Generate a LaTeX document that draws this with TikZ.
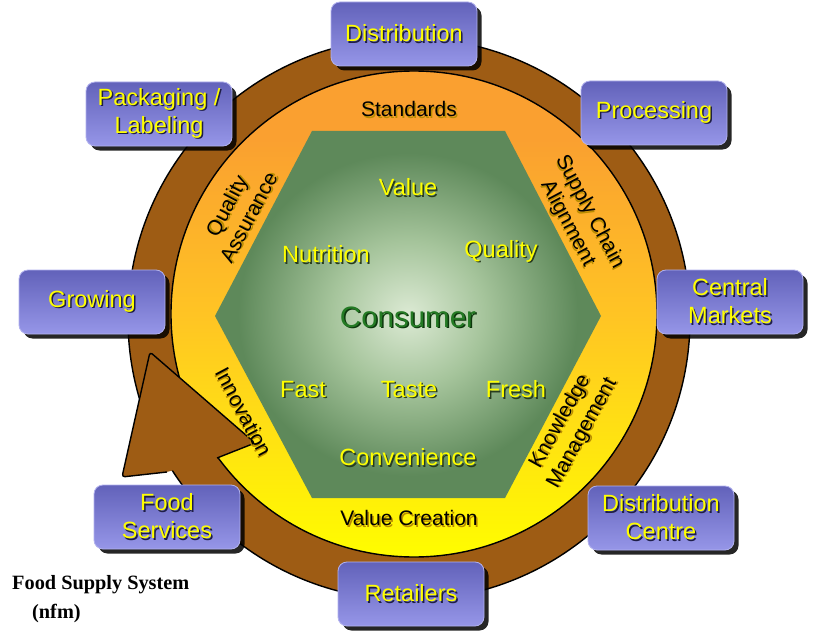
\documentclass[tikz,border=0pt]{standalone}
\usepackage{fontspec}
\setmainfont{Liberation Sans}
\newfontfamily\capfont{Liberation Serif}
\usetikzlibrary{shadows}
\definecolor{ringbrown}{RGB}{158,92,20}
\definecolor{boxtop}{RGB}{98,98,186}
\definecolor{boxbot}{RGB}{150,150,232}
\definecolor{boxline}{RGB}{178,178,238}
\definecolor{txtyel}{RGB}{255,255,0}
\definecolor{txtsh}{RGB}{30,30,70}
\definecolor{hexsh}{RGB}{40,60,30}
\definecolor{consgreen}{RGB}{36,122,36}
\definecolor{conssh}{RGB}{12,55,12}
\definecolor{ringsh}{RGB}{185,140,0}
\definecolor{hexin}{RGB}{220,234,212}
\definecolor{hexmid}{RGB}{165,196,155}
\definecolor{hexout}{RGB}{94,137,90}
\definecolor{ringY}{RGB}{255,253,0}
\definecolor{ringYb}{RGB}{255,242,6}
\definecolor{ringA}{RGB}{255,220,22}
\definecolor{ringB}{RGB}{255,196,36}
\definecolor{ringC}{RGB}{250,160,48}
\pgfdeclareradialshading{hexglow}{\pgfpoint{0bp}{0bp}}{color(0bp)=(hexin); color(10bp)=(hexmid); color(22bp)=(hexout); color(50bp)=(hexout)}
\pgfdeclareverticalshading{ringfade}{100bp}{color(0bp)=(ringY); color(25bp)=(ringY); color(30bp)=(ringYb); color(40bp)=(ringA); color(50bp)=(ringB); color(68bp)=(ringC); color(100bp)=(ringC)}
\newcommand\shadowed[3]{\leavevmode\rlap{\kern1.5pt\raisebox{-1.5pt}{\textcolor{#2}{#3}}}\textcolor{#1}{#3}}
\newcommand\shy[1]{\shadowed{txtyel}{txtsh}{#1}}
\newcommand\hy[1]{\shadowed{txtyel}{hexsh}{#1}}
\newcommand\rt[1]{\shadowed{black}{ringsh}{#1}}
\tikzset{
  fbox/.style={rounded corners=9pt, minimum width=146pt, minimum height=64pt,
    top color=boxtop, bottom color=boxbot, draw=boxline, line width=0.8pt,
    align=center, font=\fontsize{23.5}{28}\selectfont, inner sep=0pt,
    drop shadow={shadow xshift=4.5pt, shadow yshift=-4.5pt, opacity=0.85, fill=black}},
  ringtxt/.style={align=center, font=\fontsize{21}{25}\selectfont, inner sep=0pt},
  hextxt/.style={font=\fontsize{23.5}{28}\selectfont, inner sep=0pt},
  captxt/.style={anchor=base west, inner sep=0pt, font=\capfont\bfseries\fontsize{20.3}{22}\selectfont},
}
\begin{document}
\begin{tikzpicture}[x=1pt,y=-1pt]
\useasboundingbox (0,0) rectangle (815,642);
\fill[white] (0,0) rectangle (815,642);
% rings
\filldraw[fill=ringbrown, draw=black, line width=1.4pt] (409,319) circle[radius=281];
\shade[shading=ringfade, draw=black, line width=1.4pt] (414,314) circle[radius=243];
% arrow head
\fill[ringbrown, rounded corners=3pt] (217,458) -- (255,443) -- (150,352) -- (122,477) -- (167,472) -- cycle;
\draw[black, line width=1.4pt, rounded corners=3pt, line join=round] (167,472) -- (122,477) -- (150,352) -- (255,443) -- (217,458);
% hexagon
\shade[shading=hexglow] (215,316) -- (312,131) -- (505,131) -- (601,316) -- (505,498) -- (312,498) -- cycle;
% ring texts
\node[ringtxt] (std) at (409,110) {\rt{Standards}};
\node[ringtxt] (vcr) at (409,519) {\rt{Value Creation}};
\node[ringtxt, rotate=62] (qa) at (238,212) {\rt{Quality}\\\rt{Assurance}};
\node[ringtxt, rotate=-62] (sca) at (578,218) {\rt{Supply Chain}\\\rt{Alignment}};
\node[ringtxt, rotate=-62] (inn) at (243,412) {\rt{Innovation}};
\node[ringtxt, rotate=61] (km) at (572,428) {\rt{Knowledge}\\\rt{Management}};
% hexagon words
\node[hextxt] (wval) at (408,188) {\hy{Value}};
\node[hextxt] (wnut) at (326,255) {\hy{Nutrition}};
\node[hextxt] (wqua) at (501,252) {\hy{Quality}};
\node[inner sep=0pt, font=\fontsize{29.5}{34}\selectfont] (cons) at (408,318) {\shadowed{consgreen}{conssh}{Consumer}};
\node[hextxt] (wfas) at (303,390) {\hy{Fast}};
\node[hextxt] (wtas) at (409,390) {\hy{Taste}};
\node[hextxt] (wfre) at (516,390) {\hy{Fresh}};
\node[hextxt] (wcon) at (408,458) {\hy{Convenience}};
% boxes
\node[fbox] (dist) at (404,34) {\shy{Distribution}};
\node[fbox] (pack) at (159,114) {\shy{Packaging /}\\\shy{Labeling}};
\node[fbox] (proc) at (654,113) {\shy{Processing}};
\node[fbox] (cent) at (730,302) {\shy{Central}\\\shy{Markets}};
\node[fbox] (grow) at (92,302) {\shy{Growing}};
\node[fbox] (food) at (167,517) {\shy{Food}\\\shy{Services}};
\node[fbox] (ret) at (411,594) {\shy{Retailers}};
\node[fbox] (dcen) at (661,518) {\shy{Distribution}\\\shy{Centre}};
% caption
\node[captxt] (cap1) at (12,589) {Food Supply System};
\node[captxt] (cap2) at (32,618) {(nfm)};
\end{tikzpicture}
\end{document}
